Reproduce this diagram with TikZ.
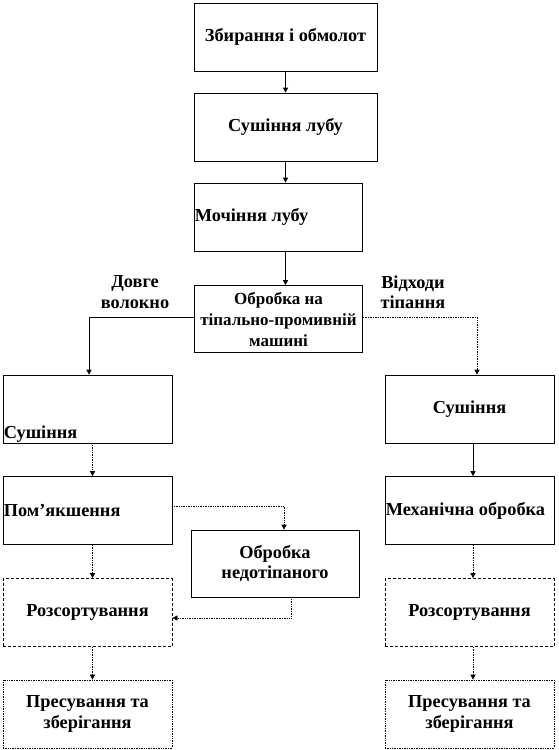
\documentclass[tikz,border=0pt]{standalone}
\usepackage{fontspec}
\setmainfont{Liberation Serif}
\usetikzlibrary{arrows.meta}
\begin{document}
\begin{tikzpicture}[x=1pt,y=-1pt,
  font=\fontsize{18.3}{20.5}\selectfont\bfseries,
  box/.style={draw, line width=0.7pt, minimum width=169pt, minimum height=68pt, inner sep=1pt, align=center},
  arr/.style={draw, line width=0.7pt, -{Triangle[length=5pt,width=5pt]}},
  dotarr/.style={arr, densely dotted},
  lft/.style={anchor=west, inner sep=1pt}]
\useasboundingbox (0,0) rectangle (558,750);
% top chain
\node[box, minimum width=183pt] (b1) at (285.5,37) {Збирання і обмолот};
\node[box, minimum width=183pt] (b2) at (285.5,127) {Сушіння лубу};
\node[box, minimum width=168pt, label={[lft]west:Мочіння лубу}] (b3) at (278,217) {};
\node[box, minimum width=168pt, minimum height=67pt, font=\fontsize{17}{21}\selectfont\bfseries] (b4) at (278.5,319) {Обробка на\\тіпально-промивній\\машині};
% left column
\node[box, label={[anchor=south west, inner sep=1pt]south west:Сушіння}] (L1) at (87.5,409) {};
\node[box, label={[lft]west:Пом’якшення}] (L2) at (87.5,510.5) {};
\node[box, densely dashed] (L3) at (87.5,612.5) {Розсортування};
\node[box, densely dotted] (L4) at (87.5,714) {Пресування та\\зберігання};
% middle
\node[box, minimum width=168pt, minimum height=67pt] (M) at (275,563.5) {Обробка\\недотіпаного};
% right column
\node[box] (R1) at (469.5,409) {Сушіння};
\node[box, label={[lft]west:Механічна обробка}] (R2) at (469.5,510.5) {};
\node[box, densely dashed] (R3) at (469.5,612.5) {Розсортування};
\node[box, densely dotted] (R4) at (469.5,714) {Пресування та\\зберігання};
% branch labels
\node[align=center] (lblL) at (135,292) {Довге\\волокно};
\node[align=center] (lblR) at (413,292) {Відходи\\тіпання};
% connectors
\draw[arr] (b1.south) -- (b2.north);
\draw[arr] (b2.south) -- (b3.north -| b2.south);
\draw[arr] (b3.south -| b2.south) -- (b4.north -| b2.south);
\draw[arr] ([yshift=2pt]b4.west) -| ([xshift=1.5pt]L1.north);
\draw[dotarr] ([yshift=2pt]b4.east) -| ([xshift=7.5pt]R1.north);
\draw[dotarr] ([xshift=5pt]L1.south) -- ([xshift=5pt]L2.north);
\draw[dotarr] ([xshift=5pt]L2.south) -- ([xshift=5pt]L3.north);
\draw[dotarr] ([xshift=5pt]L3.south) -- ([xshift=5pt]L4.north);
\draw[arr] ([xshift=3.5pt]R1.south) -- ([xshift=3.5pt]R2.north);
\draw[dotarr] ([xshift=3.5pt]R2.south) -- ([xshift=3.5pt]R3.north);
\draw[dotarr] ([xshift=3.5pt]R3.south) -- ([xshift=3.5pt]R4.north);
\draw[dotarr] ([yshift=4.5pt]L2.east) -| ([xshift=9pt]M.north);
\draw[dotarr] ([xshift=16pt]M.south) |- ([yshift=-5.5pt]L3.east);
\end{tikzpicture}
\end{document}
